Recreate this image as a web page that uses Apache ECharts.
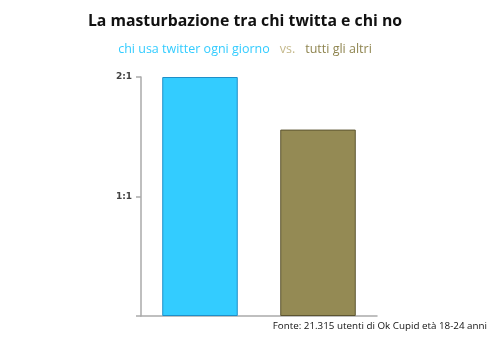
<!DOCTYPE html>
<html><head><meta charset="utf-8">
<script src="https://cdn.jsdelivr.net/npm/echarts@6/dist/echarts.min.js"></script>
<style>html,body{margin:0;padding:0;background:#fff}#c{width:490px;height:339px}</style>
</head><body><div id="c"></div>
<script>
const categories = ["chi usa twitter ogni giorno", "tutti gli altri"];
const values = [2.0, 1.56];
const tickLabels = ["", "1:1", "2:1"];
const barColors = ["#33ccff", "#948a54"];
const borderColors = ["#1f8fc8", "#5c5430"];

const chart = echarts.init(document.getElementById('c'), null, {renderer: 'canvas'});
chart.setOption({
  animation: false,
  backgroundColor: '#fff',
  title: [
    {text: 'La masturbazione tra chi twitta e chi no', left: 'center', top: 8,
     textStyle: {fontFamily: 'Open Sans', fontWeight: 'bold', fontSize: 15.8, color: '#111'}},
    {text: '{a|chi usa twitter ogni giorno}  {b|vs.}  {c|tutti gli altri}', left: 'center', top: 35,
     textStyle: {fontWeight: 'normal', rich: {
       a: {color: '#33ccff', fontFamily: 'Open Sans', fontWeight: 'normal', fontSize: 12.5},
       b: {color: '#c4b88a', fontFamily: 'Open Sans', fontWeight: 'normal', fontSize: 12.5},
       c: {color: '#8f8550', fontFamily: 'Open Sans', fontWeight: 'normal', fontSize: 12.5}
     }}},
    {text: 'Fonte: 21.315 utenti di Ok Cupid età 18-24 anni', right: 3, top: 321, padding: 0,
     textStyle: {fontFamily: 'Open Sans', fontWeight: 'normal', fontSize: 9.8, color: '#111'}}
  ],
  grid: {left: 141, right: 113, top: 77, bottom: 23, containLabel: false},
  xAxis: {
    type: 'category', data: categories,
    axisLine: {lineStyle: {color: '#aaaaaa', width: 1.5}},
    axisTick: {show: false}, axisLabel: {show: false}
  },
  yAxis: {
    type: 'value', min: 0, max: 2, interval: 1,
    splitLine: {show: false},
    axisLine: {show: true, lineStyle: {color: '#aaaaaa', width: 1.5}},
    axisTick: {show: true, length: 5, lineStyle: {color: '#aaaaaa', width: 1.5}},
    axisLabel: {margin: 9, fontFamily: 'DejaVu Sans', fontWeight: 'bold', fontSize: 9, color: '#444',
      formatter: (v) => tickLabels[Math.round(v)] || ''}
  },
  series: [{
    type: 'bar', barWidth: '64%',
    data: values.map((v, i) => ({value: v, itemStyle: {color: barColors[i], borderColor: borderColors[i], borderWidth: 1}}))
  }]
});
</script></body></html>
